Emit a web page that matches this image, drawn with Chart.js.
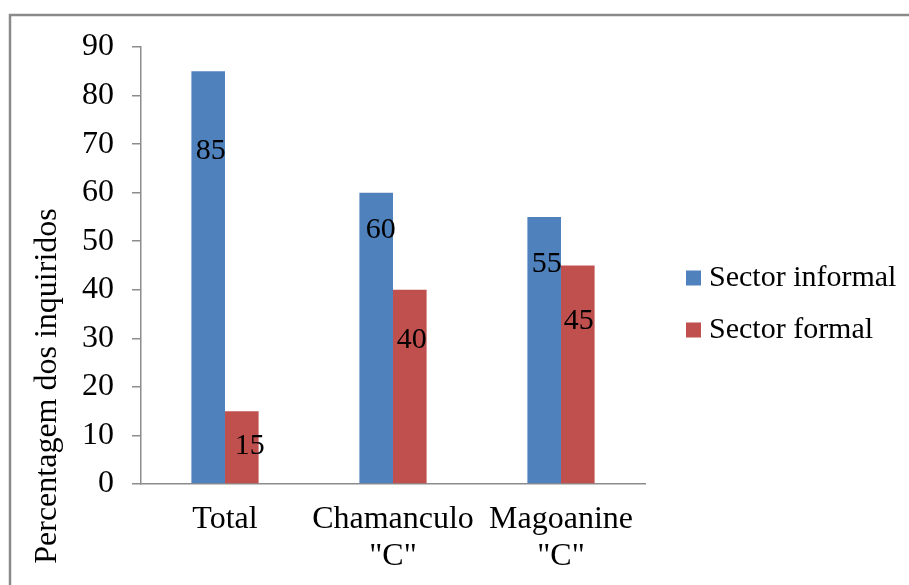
<!DOCTYPE html>
<html>
<head>
<meta charset="utf-8">
<title>Sector informal e formal</title>
<script src="https://cdn.jsdelivr.net/npm/chart.js@4/dist/chart.umd.min.js"></script>
<style>
  html, body { margin: 0; padding: 0; background: #ffffff; }
  #wrap { width: 909px; height: 585px; }
</style>
</head>
<body>
<div id="wrap"><canvas id="chart" width="909" height="585"></canvas></div>
<script>
// Categories (multi-line labels) and series values
const categories = [['Total'], ['Chamanculo', '"C"'], ['Magoanine', '"C"']];
const seriesNames = ['Sector informal', 'Sector formal'];
const informalValues = [85, 60, 55];
const formalValues = [15, 40, 45];
const yAxisTitle = 'Percentagem dos inquiridos';

// Styling
const SERIF = "'Liberation Serif', 'Times New Roman', serif";
const BLUE = '#4F81BD';
const RED = '#C0504D';
const AXIS_GREY = '#8c8c8c';

// Value-label placement relative to each bar (pixels: right, down from bar top)
const labelNudge = [
  [[2.5, 80], [4.5, 37], [2.5, 47]],
  [[8, 35], [2, 50], [1, 55.5]]
];

// Outer frame around the chart
const framePlugin = {
  id: 'frame',
  beforeDraw(chart) {
    const ctx = chart.ctx;
    ctx.save();
    ctx.fillStyle = '#ffffff';
    ctx.fillRect(0, 0, chart.width, chart.height);
    ctx.strokeStyle = '#8a8a8a';
    ctx.lineWidth = 2.5;
    ctx.beginPath();
    ctx.moveTo(10, chart.height + 5);
    ctx.lineTo(10, 15);
    ctx.lineTo(chart.width + 5, 15);
    ctx.stroke();
    ctx.restore();
  }
};

// Value labels drawn on the bars
const valueLabelPlugin = {
  id: 'valueLabels',
  afterDatasetsDraw(chart) {
    const ctx = chart.ctx;
    ctx.save();
    ctx.font = '30px ' + SERIF;
    ctx.fillStyle = '#000000';
    ctx.textAlign = 'center';
    ctx.textBaseline = 'middle';
    chart.data.datasets.forEach((ds, di) => {
      const meta = chart.getDatasetMeta(di);
      meta.data.forEach((bar, i) => {
        const [dx, dy] = labelNudge[di][i];
        ctx.fillText(String(ds.data[i]), bar.x + dx, bar.y + dy);
      });
    });
    ctx.restore();
  }
};

// Rotated y-axis title
const yTitlePlugin = {
  id: 'yTitle',
  afterDraw(chart) {
    const ctx = chart.ctx;
    ctx.save();
    ctx.translate(56, 386);
    ctx.rotate(-Math.PI / 2);
    ctx.font = '32px ' + SERIF;
    ctx.fillStyle = '#000000';
    ctx.textAlign = 'center';
    ctx.textBaseline = 'alphabetic';
    ctx.fillText(yAxisTitle, 0, 0);
    ctx.restore();
  }
};

// Legend on the right, built from the datasets
const sideLegendPlugin = {
  id: 'sideLegend',
  afterDraw(chart) {
    const ctx = chart.ctx;
    ctx.save();
    ctx.font = '30px ' + SERIF;
    ctx.textAlign = 'left';
    ctx.textBaseline = 'middle';
    chart.data.datasets.forEach((ds, i) => {
      const cy = 278 + i * 52;
      ctx.fillStyle = ds.backgroundColor;
      ctx.fillRect(686, cy - 7.5, 15, 15);
      ctx.fillStyle = '#000000';
      ctx.fillText(ds.label, 709, cy);
    });
    ctx.restore();
  }
};

new Chart(document.getElementById('chart'), {
  type: 'bar',
  data: {
    labels: categories,
    datasets: [
      { label: seriesNames[0], data: informalValues, backgroundColor: BLUE,
        barPercentage: 1.0, categoryPercentage: 0.4 },
      { label: seriesNames[1], data: formalValues, backgroundColor: RED,
        barPercentage: 1.0, categoryPercentage: 0.4 }
    ]
  },
  options: {
    responsive: false,
    animation: false,
    layout: { padding: { left: 0, top: 47, right: 264, bottom: 0 } },
    plugins: {
      legend: { display: false },
      tooltip: { enabled: false }
    },
    scales: {
      x: {
        grid: { display: true, drawOnChartArea: false, drawTicks: false },
        border: { color: AXIS_GREY, width: 1.5 },
        ticks: {
          color: '#000000',
          font: { family: SERIF, size: 32, lineHeight: 1.16 },
          padding: 17,
          maxRotation: 0,
          autoSkip: false
        },
        afterFit(scale) { scale.height = 101; }
      },
      y: {
        min: 0,
        max: 90,
        grid: { drawOnChartArea: false, drawTicks: true, tickLength: 9, color: AXIS_GREY, lineWidth: 1.5 },
        border: { color: AXIS_GREY, width: 1.5 },
        ticks: {
          stepSize: 10,
          color: '#000000',
          font: { family: SERIF, size: 32 },
          padding: 18
        },
        afterFit(scale) { scale.width = 141; }
      }
    }
  },
  plugins: [framePlugin, valueLabelPlugin, yTitlePlugin, sideLegendPlugin]
});
</script>
</body>
</html>
